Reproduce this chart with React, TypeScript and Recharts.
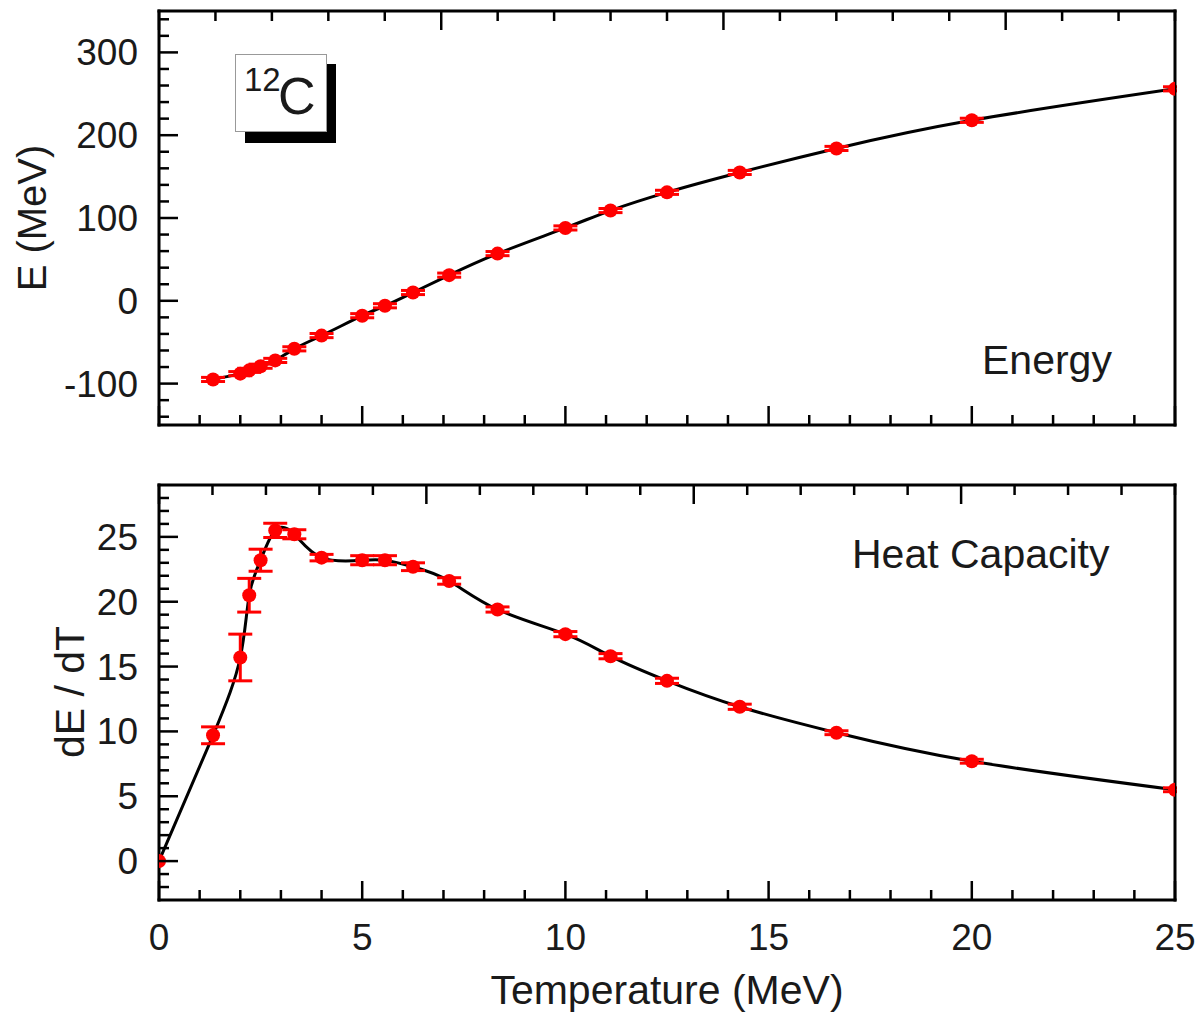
import React from "react";
import { ComposedChart, Line, Scatter, ErrorBar, XAxis, YAxis } from "recharts";

// temperatures (MeV) of the calculated points
const temperature = [1.33, 2.0, 2.22, 2.5, 2.86, 3.33, 4.0, 5.0, 5.56, 6.25, 7.14, 8.33, 10, 11.11, 12.5, 14.29, 16.67, 20, 25];
const energy = [-95, -88, -84, -79, -72, -58, -42, -18, -6, 10, 31, 57, 88, 109, 131, 155, 184, 218, 256];
const energyErr = [2.5, 2.5, 2.5, 2.5, 2.5, 2.5, 2.5, 2.5, 2.5, 2.5, 2.5, 2.5, 2.5, 2.5, 2.5, 2.5, 2.5, 2.5, 2.5];

const heatTemperature = [0, 1.33, 2.0, 2.22, 2.5, 2.86, 3.33, 4.0, 5.0, 5.56, 6.25, 7.14, 8.33, 10, 11.11, 12.5, 14.29, 16.67, 20, 25];
const heatCapacity = [0, 9.7, 15.7, 20.5, 23.2, 25.5, 25.2, 23.4, 23.2, 23.2, 22.7, 21.6, 19.4, 17.5, 15.8, 13.9, 11.9, 9.9, 7.7, 5.5];
const heatErr = [null, 0.65, 1.8, 1.3, 0.85, 0.55, 0.35, 0.25, 0.35, 0.35, 0.3, 0.25, 0.2, 0.2, 0.2, 0.2, 0.2, 0.15, 0.15, 0.15];

const range = (a: number, b: number, step: number) => {
  const out: number[] = [];
  for (let v = a; v <= b + 1e-9; v += step) out.push(Math.round(v * 1000) / 1000);
  return out;
};

const xTicks = range(0, 25, 1);
const energyTicks = range(-140, 340, 20);
const heatTicks = range(-2, 28, 1);

const energyData = temperature.map((t, i) => ({ t, v: energy[i], err: energyErr[i] }));
const heatData = heatTemperature.map((t, i) => ({ t, v: heatCapacity[i], err: heatErr[i] }));

const FONT = '"Liberation Sans", Arial, sans-serif';
const TEXT = "#1a1a1a";

function AxisTick(props: any) {
  const { x, y, payload, side, major, label } = props;
  const v = payload.value;
  const isMajor = Math.abs(v / major - Math.round(v / major)) < 1e-6;
  const len = isMajor ? 19 : 10;
  let line;
  let text = null;
  if (side === "bottom") {
    line = <line x1={x} y1={y} x2={x} y2={y - len} />;
    if (label && isMajor)
      text = <text x={x} y={y + 50} textAnchor="middle">{v}</text>;
  } else if (side === "top") {
    line = <line x1={x} y1={y} x2={x} y2={y + len} />;
  } else if (side === "left") {
    line = <line x1={x} y1={y} x2={x + len} y2={y} />;
    if (label && isMajor)
      text = <text x={x - 21} y={y + 13} textAnchor="end">{v}</text>;
  } else {
    line = <line x1={x} y1={y} x2={x - len} y2={y} />;
  }
  return (
    <g>
      <g stroke="#000" strokeWidth={2.5}>{line}</g>
      {text && (
        <g fill={TEXT} fontSize={37} fontFamily={FONT}>{text}</g>
      )}
    </g>
  );
}

const frame = { stroke: "#000", strokeWidth: 3, strokeLinecap: "square" as const };
const dot = (p: any) => <circle cx={p.cx} cy={p.cy} r={7} fill="#ff0000" />;

function Panel({ data, domain, ticks, major, height, margin, topH, bottomH, xLabels }: any) {
  return (
    <ComposedChart width={1200} height={height} data={data} margin={margin}>
      <XAxis
        dataKey="t"
        type="number"
        domain={[0, 25]}
        ticks={xTicks}
        interval={0}
        allowDataOverflow
        height={bottomH}
        tickSize={0}
        tickMargin={0}
        tickLine={false}
        axisLine={frame}
        tick={(p: any) => <AxisTick {...p} side="bottom" major={5} label={xLabels} />}
      />
      <XAxis
        xAxisId="top"
        orientation="top"
        type="number"
        domain={[0, 25]}
        ticks={xTicks}
        interval={0}
        height={topH}
        tickSize={0}
        tickMargin={0}
        tickLine={false}
        axisLine={frame}
        tick={(p: any) => <AxisTick {...p} side="top" major={5} />}
      />
      <YAxis
        type="number"
        domain={domain}
        ticks={ticks}
        interval={0}
        width={60}
        tickSize={0}
        tickMargin={0}
        tickLine={false}
        axisLine={frame}
        tick={(p: any) => <AxisTick {...p} side="left" major={major} label />}
      />
      <YAxis
        yAxisId="right"
        orientation="right"
        type="number"
        domain={domain}
        ticks={ticks}
        interval={0}
        width={10}
        tickSize={0}
        tickMargin={0}
        tickLine={false}
        axisLine={frame}
        tick={(p: any) => <AxisTick {...p} side="right" major={major} />}
      />
      <Line
        data={data}
        dataKey="v"
        type="natural"
        stroke="#000"
        strokeWidth={3}
        dot={false}
        isAnimationActive={false}
      />
      <Scatter data={data} dataKey="v" shape={dot} isAnimationActive={false}>
        <ErrorBar dataKey="err" direction="y" width={12} stroke="#ff0000" strokeWidth={3} />
      </Scatter>
    </ComposedChart>
  );
}

export default function App() {
  const abs = (s: React.CSSProperties): React.CSSProperties => ({ position: "absolute", fontFamily: FONT, color: TEXT, whiteSpace: "nowrap", ...s });
  return (
    <div style={{ position: "absolute", left: 0, top: 0, width: 1200, height: 1016, background: "#fff", overflow: "hidden" }}>
      <div style={{ position: "absolute", left: 0, top: 0 }}>
        <Panel
          data={energyData}
          domain={[-150, 350]}
          ticks={energyTicks}
          major={100}
          height={450}
          margin={{ top: 1, right: 15, bottom: 5, left: 99 }}
          topH={10}
          bottomH={20}
          xLabels={false}
        />
      </div>
      <div style={{ position: "absolute", left: 0, top: 450 }}>
        <Panel
          data={heatData}
          domain={[-3, 29]}
          ticks={heatTicks}
          major={5}
          height={566}
          margin={{ top: 0, right: 15, bottom: 16, left: 99 }}
          topH={35}
          bottomH={100}
          xLabels
        />
      </div>

      {/* keep the marks at T = 25 inside the frame */}
      <div style={abs({ left: 1177, top: 0, width: 23, height: 440, background: "#fff" })} />
      <div style={abs({ left: 1177, top: 470, width: 23, height: 436, background: "#fff" })} />

      {/* 12C label box with drop shadow */}
      <div style={abs({ left: 245, top: 64, width: 91, height: 79, background: "#000" })} />
      <div style={abs({ left: 235, top: 54, width: 90, height: 76, background: "#fff", border: "1.5px solid #999" })} />
      <div style={abs({ left: 244, top: 61, fontSize: 33 })}>12</div>
      <div style={abs({ left: 278, top: 66, fontSize: 52 })}>C</div>

      <div style={abs({ left: 982, top: 337, fontSize: 41 })}>Energy</div>
      <div style={abs({ left: 852, top: 531, fontSize: 41 })}>Heat Capacity</div>

      <div style={abs({ left: 32, top: 218, fontSize: 40, transform: "translate(-50%, -50%) rotate(-90deg)" })}>E (MeV)</div>
      <div style={abs({ left: 70, top: 692, fontSize: 41, transform: "translate(-50%, -50%) rotate(-90deg)" })}>dE / dT</div>
      <div style={abs({ left: 667, top: 990, fontSize: 41, transform: "translate(-50%, -50%)" })}>Temperature (MeV)</div>
    </div>
  );
}
